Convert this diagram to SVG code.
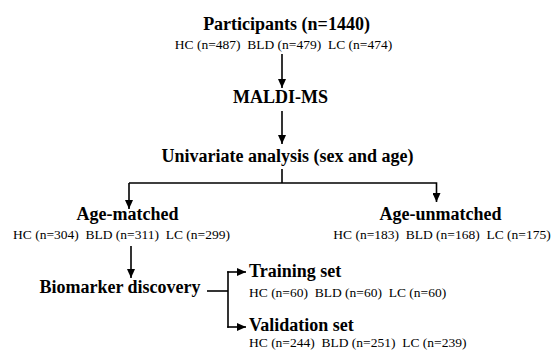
<svg xmlns="http://www.w3.org/2000/svg" width="553" height="354" viewBox="0 0 553 354">
<defs>
<marker id="ah" markerUnits="userSpaceOnUse" markerWidth="10" markerHeight="8" refX="9" refY="4" orient="auto">
<path d="M0,0 L9,4 L0,8 Z" fill="#000"/>
</marker>
<style>
.t{font-family:'Liberation Serif','DejaVu Serif','Times New Roman',serif;font-weight:bold;font-size:18px;fill:#000}
.s{font-family:'Liberation Serif','DejaVu Serif','Times New Roman',serif;font-size:13.5px;fill:#000;white-space:pre}
.c{stroke:#000;stroke-width:1.6;fill:none}
</style>
</defs>
<rect width="553" height="354" fill="#fff"/>
<g id="participants">
<text class="t" font-family="Liberation Serif" x="286.5" y="30" text-anchor="middle">Participants (n=1440)</text>
<text class="s" font-family="Liberation Serif" x="283.5" y="49" text-anchor="middle" xml:space="preserve">HC (n=487)  BLD (n=479)  LC (n=474)</text>
</g>
<g id="maldi">
<text class="t" font-family="Liberation Serif" x="280.5" y="103" text-anchor="middle">MALDI-MS</text>
</g>
<g id="univariate">
<text class="t" font-family="Liberation Serif" x="287.5" y="162" text-anchor="middle">Univariate analysis (sex and age)</text>
</g>
<g id="age-matched">
<text class="t" font-family="Liberation Serif" x="127.5" y="220" text-anchor="middle">Age-matched</text>
<text class="s" font-family="Liberation Serif" x="121.5" y="239" text-anchor="middle" xml:space="preserve">HC (n=304)  BLD (n=311)  LC (n=299)</text>
</g>
<g id="age-unmatched">
<text class="t" font-family="Liberation Serif" x="440.5" y="220" text-anchor="middle">Age-unmatched</text>
<text class="s" font-family="Liberation Serif" x="442" y="239" text-anchor="middle" xml:space="preserve">HC (n=183)  BLD (n=168)  LC (n=175)</text>
</g>
<g id="biomarker">
<text class="t" font-family="Liberation Serif" x="120" y="293" text-anchor="middle">Biomarker discovery</text>
</g>
<g id="training">
<text class="t" font-family="Liberation Serif" x="249" y="277">Training set</text>
<text class="s" font-family="Liberation Serif" x="249" y="297" xml:space="preserve">HC (n=60)  BLD (n=60)  LC (n=60)</text>
</g>
<g id="validation">
<text class="t" font-family="Liberation Serif" x="249" y="331">Validation set</text>
<text class="s" font-family="Liberation Serif" x="249" y="347" xml:space="preserve">HC (n=244)  BLD (n=251)  LC (n=239)</text>
</g>
<g id="connectors">
<line class="c" x1="282" y1="54" x2="282" y2="88" marker-end="url(#ah)"/>
<line class="c" x1="282" y1="111" x2="282" y2="144" marker-end="url(#ah)"/>
<polyline class="c" points="282,169 282,183"/>
<polyline class="c" points="129,183 436.5,183 436.5,202" marker-end="url(#ah)"/>
<line class="c" x1="129" y1="183" x2="129" y2="209" marker-end="url(#ah)"/>
<line class="c" x1="131" y1="246" x2="131" y2="278" marker-end="url(#ah)"/>
<line class="c" x1="207" y1="291" x2="228" y2="291"/>
<line class="c" x1="228" y1="271.2" x2="228" y2="327.8"/>
<line class="c" x1="227.2" y1="272" x2="246" y2="272" marker-end="url(#ah)"/>
<line class="c" x1="227.2" y1="327" x2="246" y2="327" marker-end="url(#ah)"/>
</g>
</svg>
